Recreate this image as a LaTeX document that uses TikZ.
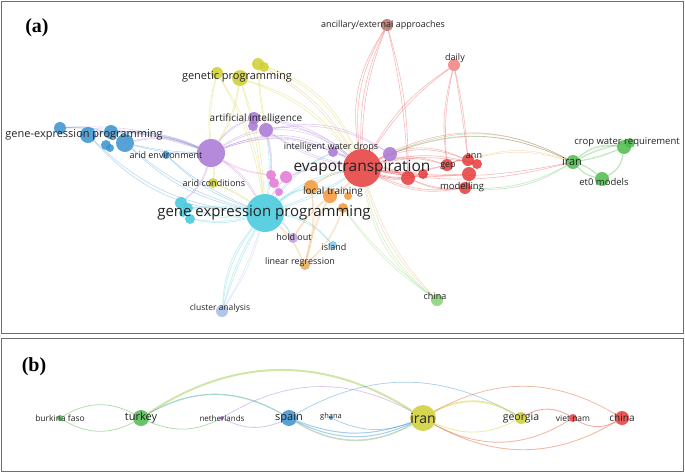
\documentclass[tikz,border=0pt]{standalone}
\usepackage{fontspec}
\setmainfont{Liberation Serif}
\newfontfamily\vosfont{Open Sans}
\usetikzlibrary{backgrounds}

\definecolor{vred}{RGB}{230,57,57}
\definecolor{vcyan}{RGB}{64,200,220}
\definecolor{vpurple}{RGB}{168,118,212}
\definecolor{vblue}{RGB}{56,146,208}
\definecolor{vyellow}{RGB}{206,206,52}
\definecolor{vgreen}{RGB}{76,186,76}
\definecolor{vorange}{RGB}{244,150,52}
\definecolor{vpink}{RGB}{228,118,214}
\definecolor{vbrown}{RGB}{178,112,100}
\definecolor{vsalmon}{RGB}{238,128,128}
\definecolor{vsky}{RGB}{162,188,232}
\definecolor{vlime}{RGB}{132,210,110}
\definecolor{vlilac}{RGB}{190,160,222}
\definecolor{vaqua}{RGB}{120,200,232}
\definecolor{vtan}{RGB}{230,172,92}
\definecolor{labelcolor}{RGB}{35,35,35}
\definecolor{framecolor}{RGB}{110,110,110}

\begin{document}
\begin{tikzpicture}[x=1pt, y=-1pt,
    kw/.style={circle, inner sep=0pt, draw=none, fill opacity=0.85},
    link/.style={draw=#1, line width=0.6pt, draw opacity=0.35},
    kwlabel/.style={text=labelcolor, inner sep=0pt},
    panel/.style={draw=framecolor, line width=0.8pt},
    tag/.style={inner sep=0pt, font=\fontsize{20}{20}\selectfont\bfseries}
    ]
    \useasboundingbox (0,0) rectangle (685,472);

    \newcommand{\kwnodes}{
        evap/362/168/19/vred, gep/447/165/6/vred, annA/468/160/6/vred,
        annB/477/164/5/vred, redA/469/174/7/vred, model/465/188/6/vred,
        redB/408/178/7/vred, redC/423/174/5/vred,
        ancil/387/25/6/vbrown, daily/454/65/6/vsalmon,
        iran/573/162/7/vgreen, crop/624/147/7/vgreen, cropB/630/143/5/vgreen,
        etzero/602/179/7/vgreen, china/437/300/6/vlime,
        gexp/265/213/19/vcyan, cyA/181/203/6/vcyan, cyB/188/208/5/vcyan,
        cyC/190/219/5/vcyan, cyD/183/213/4/vcyan,
        pbig/211/153/14/vpurple, aiA/254/118/6/vpurple, aiB/253/126/5/vpurple,
        aiC/266/130/7/vpurple, iwd/333/152/5/vpurple, purB/390/154/7/vpurple,
        gepA/60/128/6/vblue, gepB/88/135/8/vblue, gepC/111/132/7/vblue,
        gepD/125/143/9/vblue, gepE/106/145/5/vblue, gepF/110/148/4/vblue,
        aridenv/166/155/4/vblue,
        gpA/217/73/6/vyellow, gpB/240/78/8/vyellow, gpC/258/64/6/vyellow,
        gpD/264/67/5/vyellow, aridc/213/183/5/vyellow,
        pkA/271/175/5/vpink, pkB/286/177/6/vpink, pkC/274/183/5/vpink,
        pkD/279/192/4/vpink,
        ltA/311/187/7/vorange, ltB/330/196/7/vorange, ltC/343/208/5/vorange,
        ltD/348/196/4/vorange,
        hold/293/238/5/vlilac, island/333/245/4/vaqua, linreg/305/265/5/vtan,
        cluster/222/311/6/vsky,
        burkina/60/418/3/vgreen, turkey/141/418/8/vgreen, nether/222/418/2/vpurple,
        spain/289/418/8/vblue, ghana/331/418/2/vblue, iranb/423/418/13/vyellow,
        georgia/521/418/6/vyellow, vietnam/573/418/4/vred, chinab/622/418/7/vred%
    }
    \newcommand{\kwlabels}{
        evap/15.5/0/0/evapotranspiration,
        gexp/15/-1/0/gene expression programming,
        ancil/9/-4/0/{ancillary/external approaches},
        daily/9/1/-7/daily,
        gpB/11/-3/-1/genetic programming,
        aiA/10/2/1/artificial intelligence,
        gepB/11/-4/0/gene-expression programming,
        aridenv/9/0/0/arid environment,
        iwd/9/-2/-5/intelligent water drops,
        aridc/9/1/0/arid conditions,
        ltB/10/3/-4/local training,
        hold/9/1/-1/hold out,
        island/9/1/2/island,
        linreg/9/-5/-3/linear regression,
        cluster/8.5/-2/-3/cluster analysis,
        china/9/-2/-4/china,
        gep/9/1/1/gep,
        annA/9/6/-4/ann,
        model/9.5/-3/-1/modelling,
        iran/11/-1/0/iran,
        crop/9.5/3/-5/crop water requirement,
        etzero/9.5/2/3/et0 models,
        burkina/8.5/0/0/burkina faso,
        turkey/11/0/0/turkey,
        nether/8/0/0/netherlands,
        spain/11/0/0/spain,
        ghana/7.5/0/-1/ghana,
        iranb/14/0/0/iran,
        georgia/10.5/0/0/georgia,
        vietnam/8.5/0/0/viet nam,
        chinab/10/0/0/china%
    }
    \newcommand{\kwlinks}{
        evap/ancil/18/vred, evap/ancil/10/vred, redB/ancil/-8/vred,
        evap/daily/10/vred, gep/daily/8/vred, annA/daily/-4/vred,
        evap/gep/15/vred, evap/gep/-12/vred, evap/annA/22/vred,
        evap/annB/12/vred, evap/redA/-8/vred, evap/model/-18/vred,
        evap/redB/12/vred, evap/redB/-10/vred, evap/redC/-20/vred,
        redB/model/-15/vred, gep/annA/10/vred,
        evap/iran/25/vred, evap/iran/-12/vred, purB/iran/22/vgreen,
        annA/iran/15/vtan, model/iran/-18/vgreen,
        evap/china/-15/vtan, evap/china/-22/vlime, ltC/china/-10/vlime,
        iran/crop/22/vgreen, iran/crop/-8/vgreen, iran/cropB/8/vgreen,
        iran/etzero/-18/vgreen, iran/etzero/10/vgreen, crop/etzero/25/vgreen,
        pbig/evap/35/vpurple, pbig/evap/25/vpurple, aiC/evap/-12/vpurple,
        aiA/evap/15/vpurple, aiC/purB/20/vpurple, pbig/gepD/-20/vpurple,
        pbig/gepB/-15/vpurple, pbig/gepA/-12/vpurple, pbig/gexp/12/vpurple,
        pbig/aiA/15/vpurple, pbig/iwd/20/vpurple, pbig/cyA/15/vpurple,
        iwd/evap/6/vpurple,
        gepD/gexp/-15/vblue, gepB/gexp/-22/vblue, gepC/pbig/10/vblue,
        gepA/gepD/15/vblue, aridenv/gexp/-12/vblue, gepD/pbig/-8/vblue,
        gpA/pbig/-10/vyellow, gpB/pbig/10/vyellow, gpB/gexp/5/vyellow,
        gpB/evap/15/vyellow, gpC/evap/22/vyellow, gpD/evap/12/vtan,
        gpC/aiC/-5/vyellow, gpA/gexp/10/vyellow, aridc/gexp/5/vyellow,
        aridc/pbig/-10/vyellow,
        gexp/cluster/-18/vcyan, gexp/cluster/-8/vcyan, gexp/cluster/6/vsky,
        gexp/cyA/15/vcyan, gexp/cyB/-8/vcyan, gexp/cyC/10/vcyan,
        gexp/hold/12/vcyan, gexp/island/18/vcyan, gexp/evap/12/vcyan,
        gexp/evap/-8/vcyan, gexp/ltA/10/vcyan, gexp/aiC/-10/vcyan,
        gexp/iwd/12/vcyan,
        ltA/evap/10/vorange, ltB/evap/-10/vorange, ltA/linreg/10/vorange,
        ltB/linreg/-10/vorange, ltC/linreg/12/vtan, ltB/hold/-10/vorange,
        linreg/gexp/-12/vtan,
        pkB/evap/10/vpink, pkA/pbig/10/vpink, pkB/gexp/-10/vpink,
        pkA/aiC/-10/vpink%
    }
    \newcommand{\kwcountrylinks}{
        burkina/turkey/30/vgreen/0.8, burkina/turkey/-30/vgreen/0.8,
        turkey/nether/-25/vgreen/0.8, nether/spain/-25/vpurple/0.8,
        turkey/spain/30/vblue!60!vgreen/1.3, turkey/iranb/33/vyellow!60!vgreen/2.0,
        nether/iranb/30/vpurple/0.7, spain/iranb/-20/vblue/1.0,
        spain/iranb/-25/vblue/1.0, spain/iranb/-30/vblue!50!vyellow/1.6,
        ghana/iranb/-22/vblue/0.7, spain/georgia/30/vblue/0.7,
        iranb/georgia/30/vyellow/1.8, iranb/georgia/-25/vyellow/0.8,
        iranb/chinab/30/vred!70!vyellow/0.8, iranb/chinab/-30/vred!70!vyellow/0.9,
        iranb/vietnam/-30/vred!70!vyellow/0.9, georgia/vietnam/30/vred/0.8,
        vietnam/chinab/-30/vred/0.8%
    }

    % Panels
    \draw[panel] (1,1) rectangle (683,333);
    \draw[panel] (1,338) rectangle (683,471);
    \node[tag] (taga) at (37,28) {(a)};
    \node[tag] (tagb) at (34,367) {(b)};

    % Define vertices
    \foreach \name/\x/\y/\r/\col in \kwnodes {
        \node[kw, fill=\col, minimum size=\r*2pt] (\name) at (\x,\y) {};
    }

    % Define edges (keywords: each one drawn as a thin pair)
    \begin{scope}[on background layer]
    \foreach \a/\b/\bd/\col in \kwlinks {
        \draw[link=\col] (\a) to[bend left=\bd] (\b);
        \draw[link=\col] (\a) to[bend left=\bd+3] (\b);
    }
    \foreach \a/\b/\bd/\col/\w in \kwcountrylinks {
        \draw[link=\col, line width=\w pt, draw opacity=0.45] (\a) to[bend left=\bd] (\b);
    }
    \end{scope}

    % Labels
    \foreach \name/\size/\dx/\dy/\txt in \kwlabels {
        \node[kwlabel, font=\vosfont\fontsize{\size}{\size}\selectfont]
            (t\name) at ([shift={(\dx,\dy)}]\name) {\txt};
    }
\end{tikzpicture}
\end{document}
